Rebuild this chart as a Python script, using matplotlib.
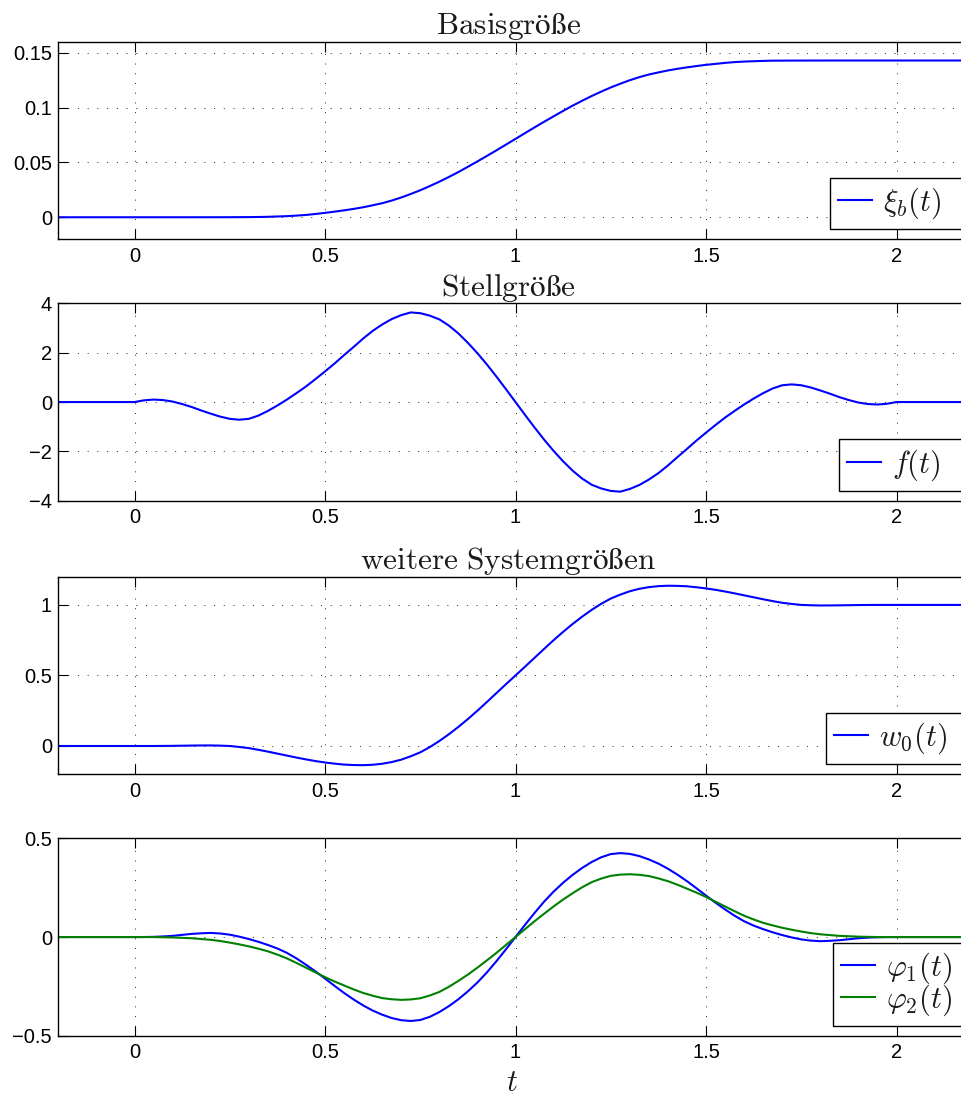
import numpy as np
import matplotlib
matplotlib.use("Agg")
import matplotlib.pyplot as plt

plt.rcParams['font.family'] = ['Liberation Sans', 'DejaVu Sans']
plt.rcParams['mathtext.fontset'] = 'cm'

# ---------------- data ----------------
# sampling grid (time axis)
t = [-0.2] + [round(0.025 * i, 3) for i in range(81)] + [2.2]

xi_b = [0.0,
        0.0, 0.0, 0.0, 0.0, 0.0, 0.0, 0.0, 0.00001, 0.00002, 0.00003,
        0.00005, 0.00009, 0.00014, 0.00025, 0.0004, 0.0007, 0.0010, 0.0015, 0.0021, 0.0030,
        0.0040, 0.0051, 0.0063, 0.0076, 0.0091, 0.0109, 0.0128, 0.0152, 0.0180, 0.0212,
        0.0246, 0.0284, 0.0324, 0.0367, 0.0412, 0.0460, 0.0509, 0.0559, 0.0610, 0.0662,
        0.0714,
        0.0767, 0.0819, 0.0870, 0.0920, 0.0969, 0.1017, 0.1062, 0.1105, 0.1145, 0.1183,
        0.1217, 0.1249, 0.1277, 0.1301, 0.1320, 0.1338, 0.1353, 0.1366, 0.1378, 0.1389,
        0.1398, 0.1407, 0.1414, 0.1419, 0.1422, 0.1425, 0.1427, 0.14275, 0.14278, 0.14281,
        0.14283, 0.14284, 0.142857, 0.142857, 0.142857, 0.142857, 0.142857, 0.142857, 0.142857, 0.142857,
        0.142857]

f_u = [0.0,
       0.00, 0.07, 0.10, 0.08, 0.02, -0.08, -0.20, -0.34, -0.47, -0.59,
       -0.68, -0.715, -0.68, -0.55, -0.36, -0.14, 0.10, 0.36, 0.63, 0.93,
       1.24, 1.56, 1.90, 2.23, 2.57, 2.88, 3.14, 3.36, 3.52, 3.63,
       3.60, 3.50, 3.35, 3.10, 2.78, 2.40, 1.98, 1.52, 1.03, 0.52,
       0.00,
       -0.52, -1.03, -1.52, -1.98, -2.40, -2.78, -3.10, -3.35, -3.50, -3.60,
       -3.63, -3.52, -3.36, -3.14, -2.88, -2.57, -2.23, -1.90, -1.56, -1.24,
       -0.93, -0.63, -0.36, -0.10, 0.14, 0.36, 0.55, 0.68, 0.715, 0.68,
       0.59, 0.47, 0.34, 0.20, 0.08, -0.02, -0.08, -0.10, -0.07, 0.00,
       0.0]

w_0 = [0.0,
       0.0, 0.0, 0.0, 0.0005, 0.001, 0.002, 0.003, 0.0037, 0.004, 0.0025,
       0.000, -0.007, -0.015, -0.027, -0.040, -0.054, -0.068, -0.082, -0.095, -0.107,
       -0.117, -0.125, -0.132, -0.135, -0.136, -0.133, -0.126, -0.114, -0.097, -0.073,
       -0.045, -0.008, 0.035, 0.083, 0.135, 0.191, 0.250, 0.312, 0.375, 0.438,
       0.500,
       0.562, 0.625, 0.688, 0.750, 0.809, 0.865, 0.917, 0.965, 1.008, 1.045,
       1.073, 1.097, 1.114, 1.126, 1.133, 1.136, 1.135, 1.132, 1.125, 1.117,
       1.107, 1.095, 1.082, 1.068, 1.054, 1.040, 1.027, 1.015, 1.007, 1.000,
       0.9975, 0.996, 0.9963, 0.997, 0.998, 0.999, 0.9995, 1.000, 1.000, 1.000,
       1.0]

phi_1 = [0.0,
         0.0, 0.0002, 0.001, 0.003, 0.006, 0.011, 0.016, 0.019, 0.021, 0.018,
         0.012, 0.002, -0.010, -0.024, -0.040, -0.058, -0.080, -0.108, -0.140, -0.174,
         -0.210, -0.247, -0.283, -0.316, -0.346, -0.372, -0.393, -0.410, -0.421, -0.425,
         -0.420, -0.404, -0.380, -0.350, -0.315, -0.275, -0.230, -0.179, -0.122, -0.062,
         0.0,
         0.062, 0.122, 0.179, 0.230, 0.275, 0.315, 0.350, 0.380, 0.404, 0.420,
         0.425, 0.421, 0.410, 0.393, 0.372, 0.346, 0.316, 0.283, 0.247, 0.210,
         0.174, 0.140, 0.108, 0.080, 0.058, 0.040, 0.024, 0.010, -0.002, -0.012,
         -0.018, -0.021, -0.019, -0.016, -0.011, -0.006, -0.003, -0.001, -0.0002, 0.0,
         0.0]

phi_2 = [0.0,
         0.0, 0.0, 0.0, -0.001, -0.002, -0.004, -0.006, -0.010, -0.014, -0.020,
         -0.028, -0.037, -0.047, -0.059, -0.072, -0.089, -0.108, -0.131, -0.155, -0.179,
         -0.203, -0.225, -0.245, -0.265, -0.283, -0.297, -0.309, -0.315, -0.318, -0.316,
         -0.310, -0.296, -0.278, -0.252, -0.222, -0.190, -0.155, -0.118, -0.080, -0.040,
         0.0,
         0.040, 0.080, 0.118, 0.155, 0.190, 0.222, 0.252, 0.278, 0.296, 0.310,
         0.316, 0.318, 0.315, 0.309, 0.297, 0.283, 0.265, 0.245, 0.225, 0.203,
         0.179, 0.155, 0.131, 0.108, 0.089, 0.072, 0.059, 0.047, 0.037, 0.028,
         0.020, 0.014, 0.010, 0.006, 0.004, 0.002, 0.001, 0.0, 0.0, 0.0,
         0.0]

x_ticks = [0, 0.5, 1, 1.5, 2]
x_tick_labels = ['0', '0.5', '1', '1.5', '2']

y1_ticks = [0, 0.05, 0.1, 0.15]
y1_labels = ['0', '0.05', '0.1', '0.15']
y2_ticks = [-4, -2, 0, 2, 4]
y2_labels = ['\u22124', '\u22122', '0', '2', '4']
y3_ticks = [0, 0.5, 1]
y3_labels = ['0', '0.5', '1']
y4_ticks = [-0.5, 0, 0.5]
y4_labels = ['\u22120.5', '0', '0.5']

titles = [r'$\mathrm{Basisgröße}$', r'$\mathrm{Stellgröße}$',
          r'$\mathrm{weitere\ Systemgrößen}$', None]

# ---------------- figure ----------------
W, H = 961, 1096
fig = plt.figure(figsize=(W / 100, H / 100), dpi=100)

ax_left, ax_w, ax_h = 58.3, 914.4, 197.5
tops = [41.7, 303.3, 576.7, 838.3]
ylims = [(-0.02, 0.16), (-4, 4), (-0.2, 1.2), (-0.5, 0.5)]
yticks = [(y1_ticks, y1_labels), (y2_ticks, y2_labels),
          (y3_ticks, y3_labels), (y4_ticks, y4_labels)]
legend_left_px = [830, 839, 826, 833]

BLUE = (0, 0, 1)
GREEN = (0, 0.5, 0)
TXT = '#1a1a1a'

axes = []
for i, top in enumerate(tops):
    ax = fig.add_axes([ax_left / W, 1 - (top + ax_h) / H, ax_w / W, ax_h / H])
    axes.append(ax)
    ax.set_xlim(-0.2, 2.2)
    ax.set_ylim(*ylims[i])
    ax.set_xticks(x_ticks)
    ax.set_xticklabels(x_tick_labels)
    ax.set_yticks(yticks[i][0])
    ax.set_yticklabels(yticks[i][1])
    ax.tick_params(direction='in', length=7, width=0.8, top=True, right=True,
                   labelsize=14.5, colors='black')
    ax.tick_params(axis='x', pad=5.5)
    ax.tick_params(axis='y', pad=4.5)
    ax.grid(True, linestyle=(0, (1, 9)), color='0.15', linewidth=0.7)
    for sp in ax.spines.values():
        sp.set_linewidth(1.0)
    if titles[i]:
        ax.text(0.492, 1 + 7.5 / ax_h, titles[i], transform=ax.transAxes,
                ha='center', va='baseline', fontsize=22.5, color=TXT)

axes[0].plot(t, xi_b, color=BLUE, lw=1.5, label=r'$\xi_b(t)$')
axes[1].plot(t, f_u, color=BLUE, lw=1.5, label=r'$f(t)$')
axes[2].plot(t, w_0, color=BLUE, lw=1.5, label=r'$w_0(t)$')
axes[3].plot(t, phi_1, color=BLUE, lw=1.5, label=r'$\varphi_1(t)$')
axes[3].plot(t, phi_2, color=GREEN, lw=1.5, label=r'$\varphi_2(t)$')

for i, ax in enumerate(axes):
    x0 = (legend_left_px[i] - ax_left) / ax_w
    wbox = (990 - legend_left_px[i]) / ax_w
    leg = ax.legend(loc='lower left', bbox_to_anchor=(x0, 10 / ax_h, wbox, 0.2),
                    mode='expand', borderaxespad=0, fontsize=22, fancybox=False,
                    framealpha=1, edgecolor='black', borderpad=0.26,
                    handlelength=1.1, handletextpad=0.36, labelspacing=-0.12)
    leg.get_frame().set_linewidth(1.0)
    for txt in leg.get_texts():
        txt.set_color(TXT)

axes[3].text((511.7 - ax_left) / ax_w, -(1090.5 - 1035.7) / ax_h, r'$t$',
             transform=axes[3].transAxes, ha='center', va='baseline',
             fontsize=22, color=TXT)

fig.savefig('out.png', dpi=100)
